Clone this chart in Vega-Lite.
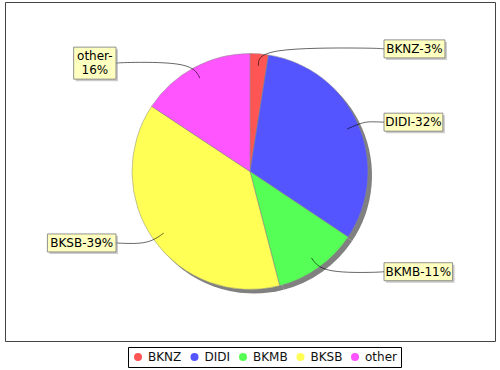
{
  "$schema": "https://vega.github.io/schema/vega-lite/v6.json",
  "width": 490,
  "height": 339,
  "autosize": {"type": "none"},
  "padding": {"left": 5, "top": 2, "right": 5, "bottom": 29},
  "background": "white",
  "config": {
    "view": {"stroke": "#444", "strokeWidth": 1},
    "font": "DejaVu Sans"
  },
  "data": {
    "values": [
      {"name": "BKNZ", "value": 2.5, "order": 1, "label": "BKNZ-3%"},
      {"name": "DIDI", "value": 31.9, "order": 2, "label": "DIDI-32%"},
      {"name": "BKMB", "value": 11.6, "order": 3, "label": "BKMB-11%"},
      {"name": "BKSB", "value": 38.4, "order": 4, "label": "BKSB-39%"},
      {"name": "other", "value": 15.7, "order": 5, "label": "other-\n16%"}
    ]
  },
  "transform": [
    {"joinaggregate": [{"op": "sum", "field": "value", "as": "total"}]},
    {"window": [{"op": "sum", "field": "value", "as": "cum"}], "sort": [{"field": "order"}], "frame": [null, 0]},
    {"calculate": "2*PI*(datum.cum - datum.value/2)/datum.total", "as": "mid"},
    {"calculate": "sin(datum.mid) >= 0 ? 1 : -1", "as": "side"},
    {"calculate": "123*cos(datum.mid)", "as": "ly"},
    {"calculate": "indexof(datum.label, '\\n') >= 0 ? substring(datum.label, 0, indexof(datum.label, '\\n')) : datum.label", "as": "first"},
    {"calculate": "indexof(datum.label, '\\n') >= 0 ? 2 : 1", "as": "nl"},
    {"calculate": "8.4*length(replace(datum.first, regexp('[^A-HJ-Z]','g'), '')) + 3.54*length(replace(datum.first, regexp('[^I]','g'), '')) + 7.63*length(replace(datum.first, regexp('[^0-9]','g'), '')) + 11.4*length(replace(datum.first, regexp('[^%]','g'), '')) + 4.33*length(replace(datum.first, regexp('[^-]','g'), '')) + 6.8*length(replace(datum.first, regexp('[^a-z]','g'), ''))", "as": "tw"},
    {"calculate": "datum.nl*14 + 4", "as": "bh"},
    {"calculate": "datum.side > 0 ? 134 : -138 - datum.tw", "as": "bx0"},
    {"calculate": "datum.side > 0 ? 138 + datum.tw : -134", "as": "bx1"},
    {"calculate": "datum.ly - datum.bh/2", "as": "by0"},
    {"calculate": "datum.ly + datum.bh/2", "as": "by1"},
    {"calculate": "(datum.bx0 + datum.bx1)/2", "as": "tx"},
    {"calculate": "datum.ly + (datum.nl - 1)*7", "as": "ty"}
  ],
  "layer": [
    {
      "mark": {"type": "arc", "radius": 118, "xOffset": 4, "yOffset": 4, "fill": "#808080"},
      "encoding": {
        "theta": {"field": "value", "type": "quantitative", "stack": true},
        "order": {"field": "order", "type": "quantitative"}
      }
    },
    {
      "mark": {"type": "arc", "radius": 118, "stroke": "#888888", "strokeWidth": 0.5},
      "encoding": {
        "theta": {"field": "value", "type": "quantitative", "stack": true},
        "order": {"field": "order", "type": "quantitative"},
        "color": {
          "field": "name",
          "type": "nominal",
          "scale": {
            "domain": ["BKNZ", "DIDI", "BKMB", "BKSB", "other"],
            "range": ["#FF5555", "#5555FF", "#55FF55", "#FFFF55", "#FF55FF"]
          },
          "legend": {
            "title": null,
            "orient": "none",
            "legendX": 123,
            "legendY": 345,
            "direction": "horizontal",
            "columns": 5,
            "symbolType": "circle",
            "symbolSize": 64,
            "symbolStrokeWidth": 0,
            "symbolOpacity": 1,
            "labelFont": "DejaVu Sans",
            "labelFontSize": 12,
            "labelColor": "#111111",
            "labelOffset": 4,
            "columnPadding": 6.5,
            "padding": 4,
            "strokeColor": "#000000"
          }
        }
      }
    },
    {
      "transform": [
        {"calculate": "datum.side*134", "as": "px0"},
        {"calculate": "datum.side*124", "as": "px1"},
        {"calculate": "124*sin(datum.mid)", "as": "px2"},
        {"calculate": "106*sin(datum.mid)", "as": "px3"},
        {"fold": ["px0", "px1", "px2", "px3"], "as": ["pk", "lx"]},
        {"calculate": "datum.pk == 'px0' ? datum.ly : datum.pk == 'px3' ? 106*cos(datum.mid) : 124*cos(datum.mid)", "as": "lyy"}
      ],
      "mark": {"type": "line", "interpolate": "basis", "stroke": "#000000", "strokeWidth": 0.6},
      "encoding": {
        "x": {"field": "lx", "type": "quantitative", "scale": {"domain": [-245, 245], "nice": false, "zero": false}, "axis": null},
        "y": {"field": "lyy", "type": "quantitative", "scale": {"domain": [-169.5, 169.5], "nice": false, "zero": false}, "axis": null},
        "detail": {"field": "name", "type": "nominal"},
        "order": {"field": "pk", "type": "ordinal"}
      }
    },
    {
      "mark": {"type": "rect", "fill": "#979797", "opacity": 0.5, "xOffset": 2, "x2Offset": 2, "yOffset": 2, "y2Offset": 2},
      "encoding": {
        "x": {"field": "bx0", "type": "quantitative", "scale": {"domain": [-245, 245], "nice": false, "zero": false}, "axis": null},
        "x2": {"field": "bx1"},
        "y": {"field": "by0", "type": "quantitative", "scale": {"domain": [-169.5, 169.5], "nice": false, "zero": false}, "axis": null},
        "y2": {"field": "by1"}
      }
    },
    {
      "mark": {"type": "rect", "fill": "#FFFFC0", "stroke": "#777777", "strokeWidth": 0.8},
      "encoding": {
        "x": {"field": "bx0", "type": "quantitative", "scale": {"domain": [-245, 245], "nice": false, "zero": false}, "axis": null},
        "x2": {"field": "bx1"},
        "y": {"field": "by0", "type": "quantitative", "scale": {"domain": [-169.5, 169.5], "nice": false, "zero": false}, "axis": null},
        "y2": {"field": "by1"}
      }
    },
    {
      "mark": {"type": "text", "font": "DejaVu Sans", "fontSize": 12, "color": "#000000", "align": "center", "baseline": "middle", "lineBreak": "\n", "lineHeight": 14},
      "encoding": {
        "x": {"field": "tx", "type": "quantitative", "scale": {"domain": [-245, 245], "nice": false, "zero": false}, "axis": null},
        "y": {"field": "ty", "type": "quantitative", "scale": {"domain": [-169.5, 169.5], "nice": false, "zero": false}, "axis": null},
        "text": {"field": "label", "type": "nominal"}
      }
    }
  ]
}
